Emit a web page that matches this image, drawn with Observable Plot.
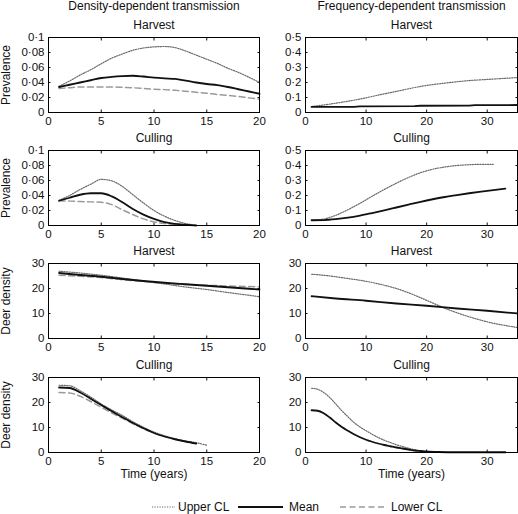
<!DOCTYPE html>
<html><head><meta charset="utf-8">
<script src="https://cdn.jsdelivr.net/npm/d3@7"></script>
<script src="https://cdn.jsdelivr.net/npm/@observablehq/plot@0.6"></script>
<style>
body{margin:0;background:#fff;}
#chart{position:relative;width:518px;height:514px;font-family:"Liberation Sans",Arial,Helvetica,sans-serif;overflow:hidden;}
</style></head><body><div id="chart"></div>
<script>
// ---------- DATA ----------
const colTitles = ["Density-dependent transmission", "Frequency-dependent transmission"];
const rowTitles = ["Harvest", "Culling", "Harvest", "Culling"];
const yLabels = ["Prevalence", "Prevalence", "Deer density", "Deer density"];
const xLabel = "Time (years)";
const legendLabels = ["Upper CL", "Mean", "Lower CL"];

const xTicksDD = [0, 5, 10, 15, 20];
const xTicksFD = [0, 10, 20, 30];
const yTicksPrevDD = [0, 0.02, 0.04, 0.06, 0.08, 0.1];
const yTicksPrevFD = [0, 0.1, 0.2, 0.3, 0.4, 0.5];
const yTicksDens = [0, 10, 20, 30];

// Density-dependent, harvest, prevalence
const yrs1to20 = [1,2,3,4,5,6,7,8,9,10,11,12,13,14,15,16,17,18,19,20];
const ddHarvPrevUpper = [0.035,0.042,0.050,0.057,0.065,0.0725,0.078,0.083,0.086,0.0875,0.088,0.0865,0.082,0.0765,0.071,0.0655,0.059,0.0535,0.047,0.040];
const ddHarvPrevMean  = [0.034,0.037,0.040,0.043,0.046,0.0475,0.0485,0.049,0.048,0.0465,0.0455,0.0448,0.0425,0.040,0.038,0.0365,0.034,0.031,0.028,0.025];
const ddHarvPrevLower = [0.032,0.033,0.034,0.034,0.034,0.034,0.0335,0.033,0.032,0.031,0.0305,0.0296,0.0283,0.027,0.0257,0.024,0.0228,0.0213,0.0195,0.0178];

// Density-dependent, culling, prevalence
const yrs1to14 = [1,2,3,4,5,6,7,8,9,10,11,12,13,14];
const yrs1to13 = [1,2,3,4,5,6,7,8,9,10,11,12,13];
const ddCullPrevUpper = [0.0335,0.040,0.048,0.055,0.0615,0.0595,0.052,0.041,0.030,0.020,0.0123,0.0066,0.0026,0.0004];
const ddCullPrevMean  = [0.033,0.037,0.041,0.043,0.043,0.0388,0.031,0.022,0.0145,0.0088,0.0044,0.0022,0.001,0.0];
const ddCullPrevLower = [0.033,0.0325,0.032,0.0315,0.031,0.0278,0.021,0.0145,0.0088,0.0048,0.0026,0.0013,0.0004];

// Frequency-dependent, harvest, prevalence
const fdHarvPrevUpperYrs = [1,3,5,7,9,11,13,15,17,19,21,23,25,27,29,31,33,35];
const fdHarvPrevUpper = [0.040,0.050,0.062,0.075,0.090,0.107,0.124,0.141,0.158,0.174,0.186,0.196,0.205,0.213,0.218,0.223,0.228,0.233];
const fdHarvPrevMeanYrs = [1,8,9,18,19,27,28,35];
const fdHarvPrevMean = [0.037,0.038,0.041,0.042,0.045,0.046,0.049,0.050];

// Frequency-dependent, culling, prevalence
const fdCullPrevUpperYrs = [1,3,5,7,9,11,13,15,17,19,21,23,25,27,29,31];
const fdCullPrevUpper = [0.035,0.043,0.068,0.105,0.148,0.195,0.240,0.282,0.320,0.352,0.375,0.390,0.400,0.405,0.408,0.408];
const fdCullPrevMeanYrs = [1,3,5,7,9,11,13,15,17,19,21,23,25,27,29,31,33];
const fdCullPrevMean = [0.035,0.036,0.042,0.052,0.066,0.083,0.101,0.120,0.139,0.158,0.175,0.190,0.203,0.215,0.226,0.236,0.246];

// Density-dependent, harvest, deer density
const ddHarvDensYrs = [1,3,5,7,9,11,13,15,17,19,20];
const ddHarvDensUpper = [26.9,26.2,25.3,24.2,23.0,21.8,20.6,19.6,18.4,17.3,16.7];
const ddHarvDensMean  = [26.2,25.4,24.7,23.8,23.0,22.3,21.7,21.1,20.5,19.9,19.6];
const ddHarvDensLower = [25.3,24.9,24.4,23.5,22.8,22.1,21.6,21.3,21.0,20.8,20.7];

// Frequency-dependent, harvest, deer density
const fdHarvDensUpperYrs = [1,3,5,7,9,11,13,15,17,19,21,23,25,27,29,31,33,35];
const fdHarvDensUpper = [25.7,25.3,24.7,24.0,23.3,22.4,21.3,20.0,18.3,16.3,14.2,12.1,10.3,8.7,7.3,6.1,5.2,4.4];
const fdHarvDensMeanYrs = [1,5,10,15,20,25,30,35];
const fdHarvDensMean = [16.9,16.0,15.1,14.0,13.1,12.0,11.1,10.0];

// Density-dependent, culling, deer density
const yrs1to15 = [1,2,3,4,5,6,7,8,9,10,11,12,13,14,15];
const ddCullDensUpper = [26.9,26.7,24.7,22.2,19.4,17.0,14.8,12.3,10.1,8.2,6.7,5.5,4.6,3.9,2.9];
const ddCullDensMean  = [26.0,25.8,24.0,21.5,19.0,16.5,14.1,11.8,9.7,7.8,6.4,5.3,4.4,3.6];
const ddCullDensLower = [24.0,23.8,22.5,20.4,18.1,15.8,13.7,11.5,9.5,7.8,6.4,5.3,4.4,3.6];

// Frequency-dependent, culling, deer density
const yrs1to22 = [1,2,3,4,5,6,7,8,9,10,11,12,13,14,15,16,17,18,19,20,21,22];
const fdCullDensUpper = [25.7,25.3,24.0,22.0,19.4,16.7,14.3,12.0,10.2,8.7,7.3,6.0,4.9,4.0,3.1,2.4,1.7,1.1,0.7,0.4,0.2,0.1];
const fdCullDensMeanYrs = [1,2,3,4,5,6,7,8,9,10,11,12,13,14,15,16,17,18,19,20,22,25,33];
const fdCullDensMean = [16.9,16.7,15.7,14.0,12.0,10.2,8.7,7.3,6.1,5.1,4.3,3.6,3.0,2.5,2.0,1.6,1.2,0.8,0.6,0.4,0.2,0.1,0.1];

// ---------- HELPERS ----------
const series = (xs, ys) => ys.map((y, i) => ({x: xs[i], y}));
const fmt = d => String(d).replace(".", "\u00b7");
const FONT = '"Liberation Sans", Arial, Helvetica, sans-serif';
const STYLES = {
  upper: {stroke: "#6a6a6a", strokeWidth: 1.2, strokeDasharray: "1.2,1.3"},
  mean:  {stroke: "#111", strokeWidth: 1.8},
  lower: {stroke: "#9a9a9a", strokeWidth: 1.5, strokeDasharray: "6,3.5"}
};

const panels = [
  {row: 0, col: 0, xDomain: [0, 20], xTicks: xTicksDD, yDomain: [0, 0.1], yTicks: yTicksPrevDD,
   lines: [["upper", yrs1to20, ddHarvPrevUpper], ["lower", yrs1to20, ddHarvPrevLower], ["mean", yrs1to20, ddHarvPrevMean]]},
  {row: 0, col: 1, xDomain: [0, 35], xTicks: xTicksFD, yDomain: [0, 0.5], yTicks: yTicksPrevFD,
   lines: [["upper", fdHarvPrevUpperYrs, fdHarvPrevUpper], ["mean", fdHarvPrevMeanYrs, fdHarvPrevMean, "linear"]]},
  {row: 1, col: 0, xDomain: [0, 20], xTicks: xTicksDD, yDomain: [0, 0.1], yTicks: yTicksPrevDD,
   lines: [["upper", yrs1to14, ddCullPrevUpper], ["lower", yrs1to13, ddCullPrevLower], ["mean", yrs1to14, ddCullPrevMean]]},
  {row: 1, col: 1, xDomain: [0, 35], xTicks: xTicksFD, yDomain: [0, 0.5], yTicks: yTicksPrevFD,
   lines: [["upper", fdCullPrevUpperYrs, fdCullPrevUpper], ["mean", fdCullPrevMeanYrs, fdCullPrevMean]]},
  {row: 2, col: 0, xDomain: [0, 20], xTicks: xTicksDD, yDomain: [0, 30], yTicks: yTicksDens,
   lines: [["upper", ddHarvDensYrs, ddHarvDensUpper], ["lower", ddHarvDensYrs, ddHarvDensLower], ["mean", ddHarvDensYrs, ddHarvDensMean]]},
  {row: 2, col: 1, xDomain: [0, 35], xTicks: xTicksFD, yDomain: [0, 30], yTicks: yTicksDens,
   lines: [["upper", fdHarvDensUpperYrs, fdHarvDensUpper], ["mean", fdHarvDensMeanYrs, fdHarvDensMean]]},
  {row: 3, col: 0, xDomain: [0, 20], xTicks: xTicksDD, yDomain: [0, 30], yTicks: yTicksDens,
   lines: [["upper", yrs1to15, ddCullDensUpper], ["lower", yrs1to14, ddCullDensLower], ["mean", yrs1to14, ddCullDensMean]]},
  {row: 3, col: 1, xDomain: [0, 35], xTicks: xTicksFD, yDomain: [0, 30], yTicks: yTicksDens,
   lines: [["upper", yrs1to22, fdCullDensUpper], ["mean", fdCullDensMeanYrs, fdCullDensMean]]}
];

const frameTops = [37, 150, 263, 377];
const FH = 75;
const colLayout = [
  {left: 0, width: 262, marginLeft: 48, marginRight: 3},
  {left: 262, width: 256, marginLeft: 43, marginRight: 1}
];

const chart = document.getElementById("chart");

for (const p of panels) {
  const cl = colLayout[p.col];
  const marginTop = 37;
  const marginBottom = p.row === 3 ? 40 : 25;
  const marks = [
    Plot.axisX({anchor: "bottom", ticks: p.xTicks, tickSize: 0, tickPadding: 4, tickFormat: fmt, label: null}),
    Plot.axisX({anchor: "bottom", ticks: p.xTicks, tickSize: -2.5, tickFormat: () => "", label: null}),
    Plot.axisX({anchor: "top", ticks: p.xTicks, tickSize: -2.5, tickFormat: () => "", label: null}),
    Plot.axisY({anchor: "left", ticks: p.yTicks, tickSize: 0, tickPadding: 4, tickFormat: fmt, label: null}),
    Plot.axisY({anchor: "left", ticks: p.yTicks, tickSize: -2.5, tickFormat: () => "", label: null}),
    Plot.axisY({anchor: "right", ticks: p.yTicks, tickSize: -2.5, tickFormat: () => "", label: null}),
    ...p.lines.map(([kind, xs, ys, curve]) =>
      Plot.line(series(xs, ys), {x: "x", y: "y", curve: curve || "monotone-x", ...STYLES[kind]})),
    Plot.frame({stroke: "#000", strokeWidth: 1}),
    Plot.text([rowTitles[p.row]], {text: d => d, frameAnchor: "top", dy: -12, lineAnchor: "middle", textAnchor: "middle", fontSize: 12, fill: "#111"})
  ];
  if (p.row === 0) {
    marks.push(Plot.text([colTitles[p.col]], {text: d => d, frameAnchor: "top", dy: -31, lineAnchor: "middle", textAnchor: "middle", fontSize: 12, fill: "#111"}));
  }
  if (p.col === 0) {
    marks.push(Plot.text([yLabels[p.row]], {text: d => d, frameAnchor: "left", rotate: -90, dx: -42, lineAnchor: "middle", textAnchor: "middle", fontSize: 12, fill: "#111"}));
  }
  if (p.row === 3) {
    marks.push(Plot.text([xLabel], {text: d => d, frameAnchor: "bottom", dy: 22, lineAnchor: "middle", textAnchor: "middle", fontSize: 12, fill: "#111"}));
  }
  const svg = Plot.plot({
    width: cl.width,
    height: marginTop + FH + marginBottom,
    marginLeft: cl.marginLeft,
    marginRight: cl.marginRight,
    marginTop,
    marginBottom,
    x: {domain: p.xDomain},
    y: {domain: p.yDomain},
    style: {background: "transparent", fontFamily: FONT, fontSize: "11.5px", color: "#111", overflow: "visible"},
    marks
  });
  svg.style.position = "absolute";
  svg.style.left = cl.left + "px";
  svg.style.top = (frameTops[p.row] - marginTop) + "px";
  chart.appendChild(svg);
}

// ---------- LEGEND ----------
const legend = d3.create("svg")
  .attr("width", 518).attr("height", 20)
  .style("position", "absolute").style("left", "0px").style("top", "497px")
  .style("font-family", FONT).style("font-size", "12px");
const legItems = [
  {kind: "upper", x1: 152, x2: 175, tx: 178},
  {kind: "mean", x1: 238, x2: 283, tx: 289},
  {kind: "lower", x1: 340, x2: 386, tx: 391}
];
legItems.forEach((it, i) => {
  const s = STYLES[it.kind];
  legend.append("line").attr("x1", it.x1).attr("x2", it.x2).attr("y1", 10).attr("y2", 10)
    .attr("stroke", s.stroke).attr("stroke-width", s.strokeWidth)
    .attr("stroke-dasharray", s.strokeDasharray || null);
  legend.append("text").attr("x", it.tx).attr("y", 10).attr("dy", "0.35em").attr("fill", "#111")
    .text(legendLabels[i]);
});
chart.appendChild(legend.node());
</script></body></html>
